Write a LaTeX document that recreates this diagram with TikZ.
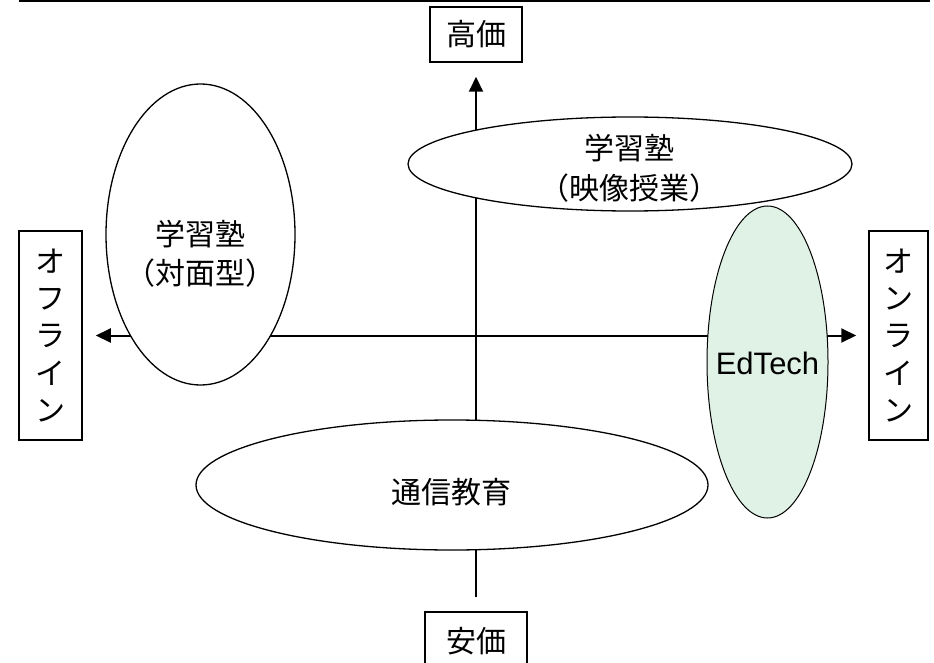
\documentclass[tikz,border=0pt]{standalone}
\usepackage{fontspec}
\setmainfont{Liberation Sans}
\newfontfamily\jp{Noto Sans CJK JP}
\usetikzlibrary{shapes.geometric,arrows.meta}
\begin{document}
\begin{tikzpicture}[x=1pt,y=-1pt,
  >={Triangle[length=15pt,width=14pt]},
  axisline/.style={line width=2pt},
  ell/.style={ellipse, draw, line width=1.3pt, fill=white, inner sep=0pt},
  labelbox/.style={draw, line width=1.5pt, fill=white, inner sep=0pt, align=center},
  jptext/.style={align=center, inner sep=0pt, font=\jp\fontsize{30}{39}\selectfont},
  vtext/.style={labelbox, font=\jp\fontsize{30}{37.3}\selectfont}
]
\useasboundingbox (0,0) rectangle (934,663);
\clip (0,0) rectangle (934,663);

% header rule
\coordinate (ruleL) at (19,1);
\coordinate (ruleR) at (930,1);
\draw[line width=2pt] (ruleL) -- (ruleR);

% axis label boxes
\node[labelbox, minimum width=92pt, minimum height=55pt, font=\jp\fontsize{30}{36}\selectfont] (taka) at (476,34.5) {高価};
\node[labelbox, minimum width=102pt, minimum height=58pt, font=\jp\fontsize{30}{36}\selectfont] (yasu) at (476,641) {安価};
\node[vtext, minimum width=63pt, minimum height=209pt] (off) at (50.5,335.5) {オ\\フ\\ラ\\イ\\ン};
\node[vtext, minimum width=59pt, minimum height=209pt] (on) at (898.5,335.5) {オ\\ン\\ラ\\イ\\ン};

% axes
\draw[axisline, ->, shorten <=14pt, shorten >=14pt] (yasu.north) -- (yasu.north |- taka.south);
\draw[axisline, <->, shorten <=13pt, shorten >=12pt] (off.east) -- (on.west);

% ellipses
\node[ell, minimum width=189pt, minimum height=301pt] (face) at (200.5,234.5) {};
\node[ell, minimum width=444pt, minimum height=94pt] (video) at (630,164) {};
\node[ell, minimum width=512pt, minimum height=130pt] (corr) at (452,485) {};
\node[ell, line width=1pt, fill={rgb,255:red,223;green,242;blue,229}, minimum width=121pt, minimum height=312pt] (edt) at (767.5,362) {};

% ellipse texts
\node[jptext] (faceT) at (200,254) {学習塾\\（対面型）};
\node[jptext, font=\jp\fontsize{30}{40}\selectfont] (videoT) at (629,168) {学習塾\\（映像授業）};
\node[jptext] (corrT) at (451,492) {通信教育};
\node[inner sep=0pt, font=\fontsize{31}{36}\selectfont] (edtT) at (767.5,363) {EdTech};
\end{tikzpicture}
\end{document}
